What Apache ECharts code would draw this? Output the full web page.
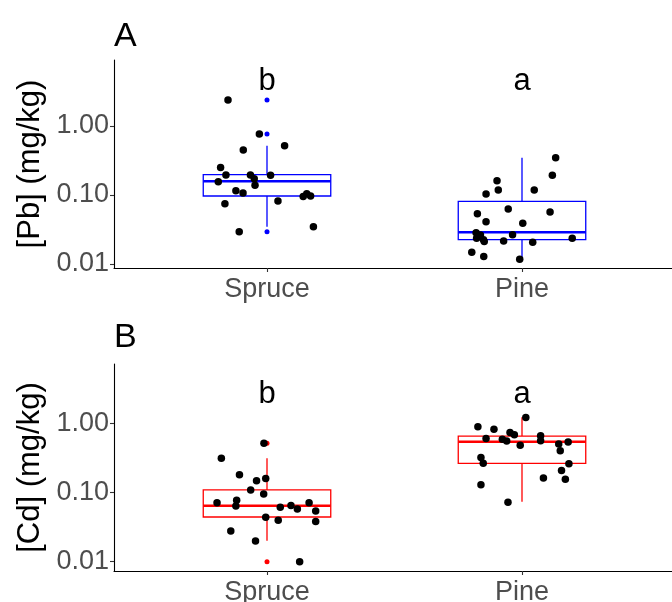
<!DOCTYPE html>
<html>
<head>
<meta charset="utf-8">
<script src="https://cdn.jsdelivr.net/npm/echarts@6/dist/echarts.min.js"></script>
<style>
html, body { margin: 0; padding: 0; background: #fff; }
#chart { width: 672px; height: 602px; }
</style>
</head>
<body>
<div id="chart"></div>
<script>
var categories = ['Spruce', 'Pine'];
var yTicks = [0.01, 0.1, 1];

// Pb (mg/kg), jittered points (jitter = horizontal offset from category centre)
var pbSpruce = [2.38, 0.766, 0.449, 0.518, 0.250, 0.195, 0.156, 0.195, 0.172, 0.138, 0.194, 0.115, 0.107, 0.0748, 0.0818, 0.095, 0.104, 0.097, 0.0294, 0.0347];
var pbSpruceJitter = [-0.153, -0.030, -0.093, 0.069, -0.182, -0.161, -0.191, -0.065, -0.050, -0.047, 0.014, -0.122, -0.094, -0.165, 0.043, 0.142, 0.156, 0.171, -0.109, 0.182];
var pbPine = [0.347, 0.193, 0.161, 0.118, 0.103, 0.118, 0.0627, 0.0567, 0.0536, 0.0409, 0.0389, 0.0284, 0.0263, 0.0236, 0.0225, 0.0212, 0.0266, 0.0215, 0.0206, 0.0236, 0.0148, 0.0128, 0.0117];
var pbPineJitter = [0.132, 0.119, -0.098, -0.093, -0.141, 0.048, -0.054, 0.110, -0.175, -0.141, 0.003, -0.180, -0.163, -0.178, -0.151, -0.148, -0.037, -0.072, 0.042, 0.197, -0.197, -0.150, -0.009];
// box stats per category: [lower whisker, Q1, median, Q3, upper whisker]
var pbBox = [[0.0347, 0.0968, 0.158, 0.197, 0.518], [0.0117, 0.0225, 0.0288, 0.081, 0.347]];
var pbOutliers = [[2.38, 0.766, 0.0294], []];

// Cd (mg/kg)
var cdSpruce = [0.514, 0.312, 0.180, 0.148, 0.160, 0.109, 0.0951, 0.0709, 0.0771, 0.0638, 0.0613, 0.0649, 0.0578, 0.0713, 0.0540, 0.0438, 0.0396, 0.0381, 0.0278, 0.0199, 0.0100];
var cdSpruceJitter = [-0.012, -0.179, -0.108, -0.041, -0.005, -0.064, -0.013, -0.196, -0.119, -0.122, 0.052, 0.094, 0.119, 0.165, 0.191, -0.005, 0.044, 0.191, -0.142, -0.045, 0.128];
var cdPine = [1.213, 0.893, 0.819, 0.736, 0.684, 0.603, 0.589, 0.555, 0.481, 0.662, 0.561, 0.502, 0.537, 0.401, 0.321, 0.264, 0.260, 0.208, 0.162, 0.156, 0.130, 0.0722];
var cdPineJitter = [0.015, -0.173, -0.110, -0.047, -0.030, -0.141, -0.077, -0.060, -0.007, 0.073, 0.073, 0.144, 0.181, 0.150, -0.161, -0.152, 0.184, 0.155, 0.084, 0.170, -0.161, -0.055];
var cdBox = [[0.0201, 0.0443, 0.0645, 0.109, 0.312], [0.0736, 0.264, 0.542, 0.655, 1.22]];
var cdOutliers = [[0.514, 0.0100], []];

// significance letters and the level they sit at
var pbLetters = ['b', 'a'];
var cdLetters = ['b', 'a'];
var pbLetterLevel = 4.5;
var cdLetterLevel = 2.6;

var FONT = 'Liberation Sans, Arial, sans-serif';
var log10 = function (v) { return Math.log10(v); };

var myChart = echarts.init(document.getElementById('chart'), null, { renderer: 'canvas' });

function boxRender(color) {
	return function (params, api) {
		var x = api.value(0);
		var lo = api.coord([x, api.value(1)]);
		var q1 = api.coord([x, api.value(2)]);
		var md = api.coord([x, api.value(3)]);
		var q3 = api.coord([x, api.value(4)]);
		var hi = api.coord([x, api.value(5)]);
		var left = api.coord([x - 0.25, api.value(3)])[0];
		var right = api.coord([x + 0.25, api.value(3)])[0];
		var st = { stroke: color, lineWidth: 1.3, fill: null };
		return {
			type: 'group',
			children: [
				{ type: 'line', shape: { x1: lo[0], y1: lo[1], x2: q1[0], y2: q1[1] }, style: st },
				{ type: 'line', shape: { x1: q3[0], y1: q3[1], x2: hi[0], y2: hi[1] }, style: st },
				{ type: 'rect', shape: { x: left, y: q3[1], width: right - left, height: q1[1] - q3[1] }, style: st },
				{ type: 'line', shape: { x1: left, y1: md[1], x2: right, y2: md[1] }, style: { stroke: color, lineWidth: 2.6 } }
			]
		};
	};
}

function xAxisFor(idx) {
	return {
		type: 'value', gridIndex: idx, min: 0.4, max: 2.6,
		splitLine: { show: false },
		axisLine: { show: true, onZero: false, lineStyle: { color: '#000', width: 1.1 } },
		axisTick: { show: true, customValues: [1, 2], length: 4, lineStyle: { color: '#333', width: 1.1 } },
		axisLabel: {
			customValues: [1, 2], margin: 8,
			formatter: function (v) { return categories[Math.round(v) - 1]; },
			fontSize: 27, color: '#4d4d4d', fontFamily: FONT
		}
	};
}

function yAxisFor(idx, name, min, max) {
	return {
		type: 'value', gridIndex: idx, min: min, max: max,
		name: name, nameLocation: 'middle', nameGap: 64,
		nameTextStyle: { fontSize: 31, color: '#000', fontFamily: FONT },
		splitLine: { show: false },
		axisLine: { show: true, onZero: false, lineStyle: { color: '#000', width: 1.1 } },
		axisTick: { show: true, customValues: yTicks.map(log10), length: 4, lineStyle: { color: '#333', width: 1.1 } },
		axisLabel: {
			customValues: yTicks.map(log10), margin: 5,
			formatter: function (v) { return Math.pow(10, v).toFixed(2); },
			fontSize: 27, color: '#4d4d4d', fontFamily: FONT
		}
	};
}

function panelSeries(idx, color, box, outliers, groups, letters, letterLevel) {
	var out = [];
	out.push({
		type: 'custom', xAxisIndex: idx, yAxisIndex: idx,
		renderItem: boxRender(color),
		encode: { x: 0, y: [1, 2, 3, 4, 5] },
		data: box.map(function (b, i) { return [i + 1].concat(b.map(log10)); }),
		z: 1
	});
	var od = [];
	outliers.forEach(function (list, i) {
		list.forEach(function (v) { od.push([i + 1, log10(v)]); });
	});
	out.push({
		type: 'scatter', xAxisIndex: idx, yAxisIndex: idx,
		symbolSize: 5, itemStyle: { color: color, opacity: 1 },
		data: od, z: 2
	});
	var pd = [];
	groups.forEach(function (g, i) {
		g.values.forEach(function (v, k) { pd.push([i + 1 + g.jitter[k], log10(v)]); });
	});
	out.push({
		type: 'scatter', xAxisIndex: idx, yAxisIndex: idx,
		symbolSize: 7.5, itemStyle: { color: '#000', opacity: 1 },
		data: pd, z: 3
	});
	out.push({
		type: 'scatter', xAxisIndex: idx, yAxisIndex: idx,
		symbolSize: 1, silent: true,
		itemStyle: { color: 'rgba(0,0,0,0)' },
		data: letters.map(function (t, i) { return [i + 1, log10(letterLevel)]; }),
		label: {
			show: true, position: 'inside',
			formatter: function (p) { return letters[p.dataIndex]; },
			fontSize: 31, color: '#000000', opacity: 1, textBorderWidth: 0, fontFamily: FONT
		},
		z: 4
	});
	return out;
}

var option = {
	animation: false,
	backgroundColor: '#fff',
	title: [
		{ text: 'A', left: 114, top: 20, padding: 0, textStyle: { fontSize: 34, fontWeight: 'normal', color: '#000', fontFamily: FONT } },
		{ text: 'B', left: 114, top: 321, padding: 0, textStyle: { fontSize: 34, fontWeight: 'normal', color: '#000', fontFamily: FONT } }
	],
	grid: [
		{ left: 114, top: 60, width: 561, height: 208, outerBoundsMode: 'none' },
		{ left: 114, top: 364, width: 561, height: 207, outerBoundsMode: 'none' }
	],
	xAxis: [xAxisFor(0), xAxisFor(1)],
	yAxis: [
		yAxisFor(0, '[Pb] (mg/kg)', -2.058, 0.957),
		yAxisFor(1, '[Cd] (mg/kg)', -2.134, 0.857)
	],
	series: [].concat(
		panelSeries(0, '#0000ff', pbBox, pbOutliers,
			[{ values: pbSpruce, jitter: pbSpruceJitter }, { values: pbPine, jitter: pbPineJitter }],
			pbLetters, pbLetterLevel),
		panelSeries(1, '#ff0000', cdBox, cdOutliers,
			[{ values: cdSpruce, jitter: cdSpruceJitter }, { values: cdPine, jitter: cdPineJitter }],
			cdLetters, cdLetterLevel)
	)
};
myChart.setOption(option);
</script>
</body>
</html>
